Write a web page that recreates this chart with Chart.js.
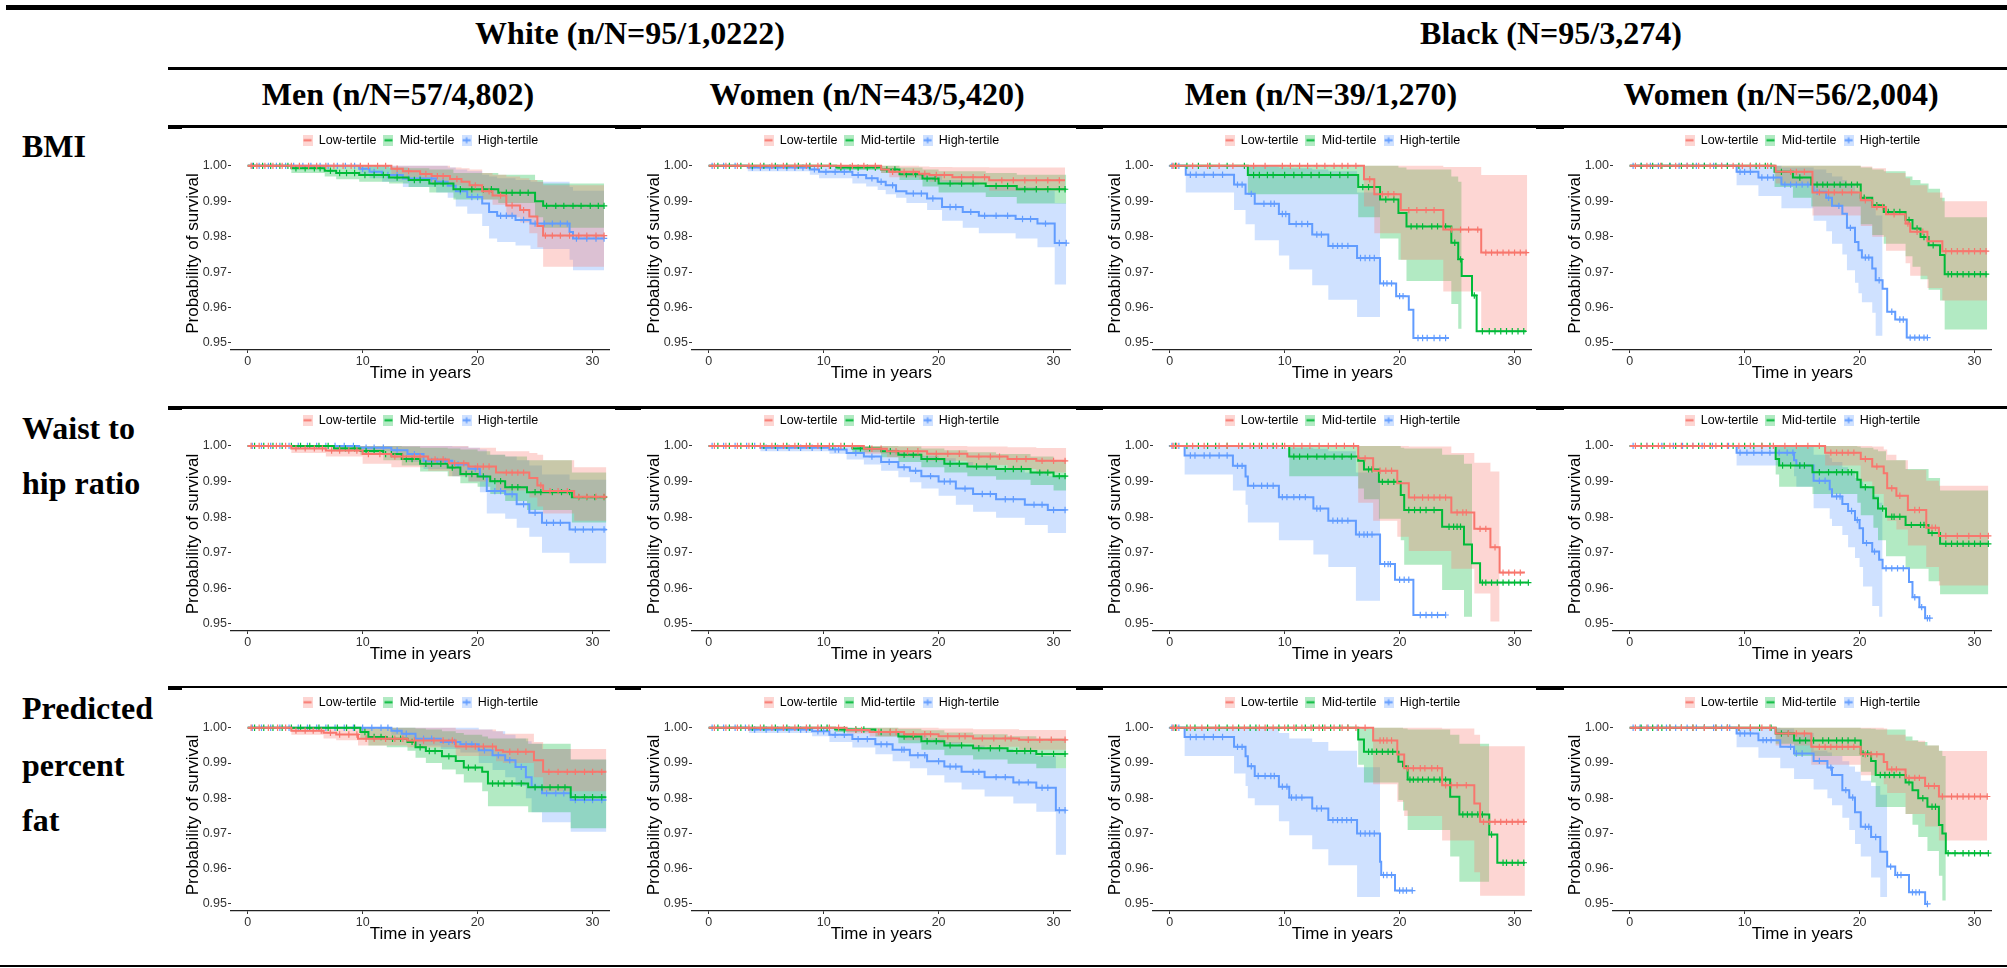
<!DOCTYPE html>
<html>
<head>
<meta charset="utf-8">
<script src="https://cdn.jsdelivr.net/npm/chart.js@4.4.1/dist/chart.umd.min.js"></script>
<style>
  body { margin: 0; background: #fff; width: 2007px; height: 968px; position: relative; overflow: hidden;
         font-family: "Liberation Serif", "Times New Roman", serif; }
  .rule { position: absolute; background: #000; }
  .hdr { position: absolute; font-weight: bold; font-size: 32px; white-space: nowrap; transform: translate(-50%, -50%); }
  .lbl { position: absolute; left: 22px; font-weight: bold; font-size: 32px; white-space: nowrap; transform: translateY(-50%); }
  canvas { position: absolute; }
</style>
</head>
<body>
<div id="page"></div>
<script>
// --- data: each row = [time in years, survival, lower CI, upper CI] ---
// lower/upper = null once the band falls below the 0.95 axis floor (ribbon is dropped there)
// *Cens arrays = times of the censoring ticks (+) on each curve

// BMI
const bmiWhiteMenLow = [[0,1,1,1],[12.5,0.9992,0.9975,1],[13.5,0.9985,0.9968,1],[15.0,0.9977,0.9958,1],[16.0,0.9971,0.9952,1],[17.6,0.9963,0.9945,0.9995],[18.6,0.9955,0.9935,0.9993],[19.3,0.9945,0.9925,0.999],[20.4,0.9928,0.9905,0.998],[21.3,0.9916,0.989,0.9975],[22.5,0.9888,0.9855,0.997],[23.7,0.9875,0.984,0.9965],[24.5,0.9857,0.981,0.996],[25.2,0.983,0.977,0.9955],[25.7,0.9803,0.9715,0.9945],[31.0,0.9803,0.9715,0.9945]];
const bmiWhiteMenMid = [[0,1,1,1],[3.8,0.9993,0.998,1],[6.7,0.9986,0.997,1],[7.7,0.998,0.9962,1],[9.7,0.9974,0.9955,1],[12.3,0.9967,0.995,0.9995],[14.0,0.996,0.994,0.9993],[15.8,0.995,0.9925,0.999],[17.9,0.9934,0.9905,0.998],[21.8,0.9924,0.9895,0.9975],[25.0,0.99,0.9855,0.996],[25.7,0.9887,0.9825,0.995],[31.0,0.9887,0.9825,0.995]];
const bmiWhiteMenHigh = [[0,1,1,1],[9.7,0.9992,0.9975,1],[10.6,0.9983,0.9965,1],[11.7,0.9974,0.9955,1],[13.5,0.9964,0.994,1],[16.4,0.9955,0.9925,1],[17.4,0.9944,0.991,0.9995],[18.1,0.9928,0.9885,0.999],[19.1,0.9912,0.9865,0.9985],[20.4,0.9894,0.983,0.9975],[21.0,0.987,0.9795,0.997],[21.7,0.9859,0.9785,0.9965],[23.3,0.9847,0.9775,0.996],[24.6,0.9837,0.9765,0.9955],[28.0,0.9813,0.9735,0.994],[28.3,0.9795,0.9705,0.993],[31.0,0.9795,0.9705,0.993]];
const bmiWhiteMenLowCens = [0.3,0.8,1.5,2.2,3,3.8,4.5,5.3,6,6.8,7.5,8.3,9,9.8,10.5,11.3,12,13,14,15.5,16.5,17,18.2,19.8,21,22,23,24,25.9,26.5,27.2,28,28.8,29.5,30.3,31];
const bmiWhiteMenMidCens = [0.5,1.3,2,2.8,3.5,4.2,5,5.8,6.3,7.2,8,8.6,9.3,10.2,11,11.8,13,14.5,15,16.3,17,18.5,19.5,20.5,21.2,22.5,23,23.7,24.4,26,26.8,27.5,28.3,29,29.8,30.5,31];
const bmiWhiteMenHighCens = [0.4,1,1.8,2.5,3.3,4,4.8,5.5,6.3,7,7.8,8.5,9.3,10,11,12.2,13,14,15,16,17,18.5,19.5,20,22,22.5,23,24,25,25.8,26.5,27.2,27.8,28.6,29.5,30.3,31];

const bmiWhiteWomenLow = [[0,1,1,1],[15.0,0.999,0.998,1],[15.7,0.9983,0.9968,1],[18.3,0.9978,0.9962,0.9998],[19.2,0.9974,0.9955,0.9997],[21.2,0.9968,0.9948,0.9996],[24.4,0.9959,0.993,0.9995],[31.0,0.9959,0.993,0.9995]];
const bmiWhiteWomenMid = [[0,1,1,1],[11.1,0.9995,0.9988,1],[15.0,0.999,0.998,1],[16.6,0.9976,0.996,0.9995],[18.6,0.9964,0.9942,0.999],[20.0,0.995,0.9925,0.9985],[24.1,0.9943,0.9912,0.998],[26.8,0.9934,0.9894,0.9975],[31.1,0.9934,0.9894,0.9975]];
const bmiWhiteWomenHigh = [[0,1,1,1],[3.4,0.9995,0.9985,1],[8.8,0.999,0.9975,1],[9.6,0.9983,0.9965,1],[12.5,0.9974,0.995,0.9995],[13.7,0.9965,0.9942,0.9992],[14.7,0.9955,0.9932,0.999],[15.4,0.9945,0.992,0.9988],[16.3,0.9928,0.991,0.9985],[17.2,0.9922,0.9895,0.998],[19.0,0.9908,0.9875,0.9972],[20.3,0.9884,0.9845,0.996],[22.1,0.987,0.9825,0.9952],[23.5,0.9859,0.981,0.9945],[26.7,0.985,0.9795,0.994],[28.6,0.9837,0.977,0.993],[30.1,0.9782,0.9665,0.9895],[31.1,0.9782,0.9665,0.9895]];
const bmiWhiteWomenLowCens = [0.5,1.5,2.5,3.5,4.5,5.5,6.5,7.5,8.5,9.5,10.5,11.5,12.5,13.5,14.5,16,17,17.8,18.8,19.8,20.5,22,23,24,25.5,26.5,27.5,28.5,29.5,30.5];
const bmiWhiteWomenMidCens = [0.8,1.8,2.8,3.8,4.8,5.8,6.8,7.8,8.8,9.8,10.6,11.5,12.3,13,13.8,14.5,15.5,16.2,17.2,18,19,19.7,21,22,23,25,26,27.5,28.5,29.5,30.5,31];
const bmiWhiteWomenHighCens = [0.3,1.3,2.3,3.8,4.5,5.3,6,6.8,7.5,8.2,9.2,10.2,11,11.8,13,14.2,15,16,17.8,18.5,19.5,21,21.5,22.8,24,25,26,27.3,28,29.3,30.5,31.1];

const bmiBlackMenLow = [[0,1,1,1],[16.9,0.9962,0.9885,1],[17.8,0.992,0.981,1],[20.1,0.9875,0.9735,1],[23.8,0.982,0.9645,0.9997],[27.1,0.9755,0.9533,0.9974],[31.1,0.9755,0.9533,0.9974]];
const bmiBlackMenMid = [[0,1,1,1],[6.8,0.9974,0.992,1],[16.4,0.994,0.9855,1],[18.3,0.9905,0.9795,1],[19.9,0.9867,0.9735,0.9995],[20.6,0.9829,0.9675,0.999],[24.5,0.9783,0.961,0.997],[25.1,0.9736,0.954,0.9955],[25.4,0.9689,null,null],[26.3,0.9634,null,null],[26.7,0.9533,null,null],[31.0,0.9533,null,null]];
const bmiBlackMenHigh = [[0,1,1,1],[1.4,0.9975,0.9925,1],[5.6,0.9947,0.9875,1],[6.6,0.9921,0.9835,1],[7.4,0.9893,0.979,1],[9.5,0.9864,0.9747,0.9995],[10.4,0.9836,0.9707,0.9993],[12.4,0.9806,0.9663,0.999],[13.8,0.9774,0.9622,0.9985],[16.3,0.974,0.9573,0.9925],[18.3,0.9668,null,null],[19.7,0.9632,null,null],[20.8,0.9594,null,null],[21.2,0.9514,null,null],[24.3,0.9514,null,null]];
const bmiBlackMenLowCens = [0.3,0.6,2,3.3,4.3,5.5,7.3,8.3,9.8,10.5,11.3,12,12.8,13.5,14.3,15,15.5,16.2,17.4,18.5,19,19.5,20.8,21.5,22.3,23,24.5,25.3,26,26.8,27.5,28,28.5,29,29.5,30,30.5,31];
const bmiBlackMenMidCens = [0.5,1.5,2.5,3.5,5,6.5,7.3,7.8,8.5,9,10,10.8,11.5,12.3,13,14,14.8,15.5,16.8,17.3,17.8,18.8,19.5,21,21.5,22,22.8,23.3,24,24.8,25.3,26.5,27.2,27.8,28.3,28.8,29.3,29.8,30.3,30.8];
const bmiBlackMenHighCens = [0.2,0.5,0.8,1.8,2.3,3,3.8,4.6,5.9,6.3,7.1,8.2,8.8,9.1,9.8,10.1,11,11.5,12,12.8,13.2,14.2,14.6,15,15.5,16.6,17,17.4,17.8,18.6,18.9,19.3,20,20.3,21.6,22,22.4,23,23.5,24];

const bmiBlackWomenLow = [[0,1,1,1],[12.7,0.9983,0.995,1],[15.9,0.9925,0.986,1],[20.1,0.9903,0.983,0.9998],[21.1,0.9884,0.98,0.9993],[22.3,0.9863,0.976,0.998],[24.0,0.9837,0.9725,0.9965],[24.4,0.9814,0.969,0.9945],[25.9,0.9787,0.9655,0.9925],[27.2,0.9759,0.962,0.99],[31.1,0.9759,0.962,0.99]];
const bmiBlackWomenMid = [[0,1,1,1],[12.6,0.9983,0.994,1],[14.2,0.9967,0.991,1],[15.8,0.9947,0.9885,1],[20.1,0.991,0.9835,0.9995],[21.1,0.9889,0.9805,0.999],[22.1,0.987,0.978,0.9985],[24.0,0.9847,0.9745,0.997],[24.6,0.9823,0.9715,0.996],[25.3,0.9799,0.968,0.995],[26.0,0.9776,0.965,0.9935],[27.0,0.9748,0.962,0.991],[27.4,0.9694,0.9538,0.9855],[31.1,0.9694,0.9538,0.9855]];
const bmiBlackWomenHigh = [[0,1,1,1],[9.3,0.9983,0.9945,1],[11.2,0.9967,0.9915,1],[13.2,0.9947,0.988,0.9995],[16.0,0.9927,0.9845,0.999],[17.1,0.991,0.9815,0.998],[17.6,0.9887,0.978,0.997],[18.5,0.9865,0.975,0.996],[18.9,0.9825,0.9705,0.9945],[19.6,0.9785,0.967,0.993],[19.9,0.9762,0.964,0.992],[20.2,0.9741,0.9615,0.991],[21.1,0.971,0.9585,0.988],[21.4,0.9677,0.952,0.986],[22.0,0.9653,null,null],[22.4,0.9588,null,null],[23.1,0.9566,null,null],[24.1,0.9515,null,null],[25.9,0.9515,null,null]];
const bmiBlackWomenLowCens = [0.5,1.5,2.7,4,5,6,7,8,9,9.8,10.5,11.3,12,14,14.5,15.2,16.5,17.3,17.8,18.5,19.3,20.5,21.5,22,23,24.2,25,25.5,27.5,28,28.5,29,29.5,30,30.5,31];
const bmiBlackWomenMidCens = [1,2,2.8,3.5,4.5,5.5,6.5,7.5,8.5,9.5,10.5,11,11.8,12.3,13.2,14.8,16.3,16.8,17.2,17.8,18.3,18.8,19.3,19.8,20.4,21.5,22.5,23,23.5,24.3,25,25.6,26.4,27.7,28,28.5,29,29.5,30,30.5,31];
const bmiBlackWomenHighCens = [0.3,1,1.8,2.5,3.5,4.3,5,5.8,6.5,7.3,8,8.5,9.6,10,10.5,11.5,12,12.5,13.5,14,14.5,15,15.5,16.3,17.3,18.2,19.2,20.5,20.8,21.7,22.8,23.5,23.8,24.4,24.8,25.2,25.6,25.9];

// Waist to hip ratio
const whrWhiteMenLow = [[0,1,1,1],[3.8,0.9993,0.998,1],[6.8,0.9987,0.997,1],[10.0,0.9977,0.995,1],[12.5,0.997,0.994,1],[15.7,0.9962,0.993,1],[17.5,0.9951,0.9915,1],[19.2,0.9942,0.99,0.9995],[21.6,0.9925,0.9875,0.9985],[24.5,0.991,0.9855,0.998],[25.2,0.9889,0.983,0.9975],[25.7,0.9873,0.981,0.996],[28.4,0.9857,0.979,0.994],[31.2,0.9857,0.979,0.994]];
const whrWhiteMenMid = [[0,1,1,1],[7.5,0.9993,0.9985,1],[9.8,0.9986,0.9975,1],[11.8,0.9977,0.996,1],[13.4,0.9963,0.9945,0.9998],[15.0,0.995,0.9928,0.9995],[17.4,0.9939,0.9915,0.9993],[18.5,0.9921,0.9895,0.999],[20.0,0.9914,0.9885,0.9985],[21.1,0.9901,0.9865,0.9975],[22.4,0.9884,0.9845,0.997],[24.3,0.987,0.982,0.996],[28.2,0.9856,0.9785,0.9925],[31.2,0.9856,0.9785,0.9925]];
const whrWhiteMenHigh = [[0,1,1,1],[9.7,0.9995,0.9985,1],[12.5,0.9988,0.997,1],[13.9,0.9977,0.9955,1],[15.3,0.9958,0.9935,1],[17.8,0.9948,0.9915,0.9998],[19.2,0.9936,0.99,0.9995],[20.2,0.9915,0.987,0.999],[20.8,0.9873,0.981,0.9975],[22.4,0.9864,0.9795,0.997],[23.4,0.9836,0.977,0.996],[24.5,0.9812,0.9745,0.9945],[25.6,0.9784,0.97,0.992],[28.0,0.9765,0.967,0.9905],[31.2,0.9765,0.967,0.9905]];
const whrWhiteMenLowCens = [0.3,1,1.8,2.5,3.3,4.2,5,5.8,6.5,7.3,8,8.8,9.5,10.5,11.5,12.8,13.5,14.5,15,16.3,17,18,18.8,20,20.5,21,22.5,23,23.5,24,25.5,26.3,27,27.8,28.8,29.5,30.3,31];
const whrWhiteMenMidCens = [0.6,1.4,2.2,3,3.8,4.6,5.4,6.2,7,8,8.5,9.3,10.3,11,12,12.5,13.8,14.3,15.5,16,16.8,17.8,19,19.5,20.5,21.5,22,23,23.5,25,25.5,26.5,27.3,28,28.8,29.5,30.2,31];
const whrWhiteMenHighCens = [0.4,1.2,2,2.8,3.6,4.4,5.2,6,6.8,7.6,8.4,9.2,10.3,11,11.8,13,14.5,16,16.5,17.2,18.3,19.8,21.5,22,23,24,25,26,26.6,27.2,28.5,29.2,30,31];

const whrWhiteWomenLow = [[0,1,1,1],[13.5,0.9992,0.9978,1],[15.5,0.9985,0.9968,1],[19.0,0.9978,0.9958,1],[22.5,0.997,0.9946,0.9998],[26.0,0.9963,0.9935,0.9996],[28.5,0.9958,0.9925,0.9994],[31.1,0.9958,0.9925,0.9994]];
const whrWhiteWomenMid = [[0,1,1,1],[12.5,0.9993,0.9982,1],[15.0,0.9985,0.9968,1],[16.5,0.9975,0.9955,0.9998],[18.5,0.9963,0.994,0.9993],[20.5,0.995,0.9925,0.9988],[22.5,0.9942,0.9915,0.9982],[25.0,0.9935,0.9905,0.9977],[28.0,0.9925,0.989,0.997],[30.0,0.9915,0.9875,0.996],[31.1,0.9915,0.9875,0.996]];
const whrWhiteWomenHigh = [[0,1,1,1],[4.5,0.9995,0.9985,1],[10.5,0.999,0.9978,1],[12.0,0.998,0.9962,1],[13.5,0.997,0.9948,0.9995],[15.0,0.9955,0.993,0.999],[16.5,0.994,0.9912,0.9985],[17.5,0.993,0.9898,0.998],[18.5,0.9915,0.988,0.9972],[20.0,0.99,0.986,0.9965],[21.5,0.988,0.9835,0.9955],[23.0,0.9865,0.9815,0.9945],[25.0,0.985,0.9798,0.9935],[27.5,0.9835,0.9778,0.9925],[29.5,0.982,0.9755,0.9915],[31.1,0.982,0.9755,0.9915]];
const whrWhiteWomenLowCens = [0.5,1.5,2.5,3.5,4.5,5.5,6.5,7.5,8.5,9.5,10.5,11.5,12.5,14.2,15,16.3,17.3,18.2,19.8,20.8,21.8,23.5,24.5,25.3,26.8,27.6,29,30,31];
const whrWhiteWomenMidCens = [0.8,1.8,2.8,3.8,4.8,5.8,6.8,7.8,8.8,9.8,10.8,11.8,13.2,14,15.8,17,17.8,19,19.8,21,21.8,23.3,24.2,25.8,26.5,27.2,28.8,29.5,30.5,31];
const whrWhiteWomenHighCens = [0.3,1.3,2.3,3.3,4,5,6,7,8,9,9.8,11,11.3,12.8,14.2,15.7,17,18,19.3,20.5,21,22.3,23.8,24.5,25.8,26.5,28.3,29,30,31];

const whrBlackMenLow = [[0,1,1,1],[16.4,0.9965,0.984,1],[17.7,0.993,0.979,1],[19.8,0.9895,0.9745,1],[20.8,0.9855,0.9705,0.9998],[24.5,0.9813,0.9655,0.998],[26.5,0.9767,0.9585,0.9953],[27.9,0.9715,0.9507,0.9928],[28.7,0.9644,null,null],[30.9,0.9644,null,null]];
const whrBlackMenMid = [[0,1,1,1],[10.4,0.997,0.9915,1],[16.4,0.9958,0.988,1],[16.9,0.9934,0.985,1],[18.2,0.9899,0.9795,1],[20.1,0.9862,0.9735,0.9995],[20.4,0.982,0.9666,0.9993],[23.7,0.9773,0.9595,0.9975],[25.6,0.9723,0.952,0.995],[26.3,0.967,null,null],[27.0,0.9616,null,null],[31.2,0.9616,null,null]];
const whrBlackMenHigh = [[0,1,1,1],[1.3,0.9973,0.992,1],[5.5,0.9944,0.9875,1],[6.6,0.9914,0.9835,1],[6.8,0.9888,0.9785,1],[9.5,0.9856,0.9735,0.9995],[12.5,0.9824,0.9695,0.9992],[13.8,0.979,0.966,0.9985],[16.2,0.9751,0.9565,0.9925],[18.3,0.9668,null,null],[19.6,0.9624,null,null],[21.2,0.9525,null,null],[24.0,0.9525,null,null]];
const whrBlackMenLowCens = [0.3,0.6,2,3,4.3,5,6,7,7.8,8.5,9.3,10,10.8,11.5,12.2,13,13.8,14.5,15.2,16,17,18.3,18.8,19.3,21.3,22,22.5,23,23.5,24,25,25.5,25.8,27,27.5,28.3,29,29.5,30,30.5];
const whrBlackMenMidCens = [0.5,1.5,2.5,3.3,4,5,6.3,7.3,8,9,9.8,10.8,11.3,12,12.8,13.5,14.3,15,15.8,17.3,17.6,18.5,19,19.5,20.8,21.3,21.8,22.3,23,24.3,24.7,25,25.3,27.2,27.5,28,28.5,29,29.5,30,30.5,31.2];
const whrBlackMenHighCens = [0.2,0.5,0.8,1.8,2.2,3,3.5,4.3,5,5.9,6.3,7.3,8,8.5,9,9.8,10.2,10.8,11.3,11.8,12.8,13.1,14.2,14.6,15,15.5,16.5,16.9,17.2,17.6,18.7,19,19.2,20,20.4,20.8,21.8,22.3,22.8,23.3,24];

const whrBlackWomenLow = [[0,1,1,1],[17.0,0.9981,0.9945,1],[20.1,0.9963,0.99,1],[21.1,0.9942,0.9865,0.9998],[22.1,0.9923,0.983,0.999],[22.4,0.9881,0.979,0.9975],[23.2,0.986,0.9765,0.996],[24.2,0.982,0.972,0.9933],[25.8,0.977,0.966,0.9902],[26.9,0.9747,0.9608,0.9888],[31.2,0.9747,0.9608,0.9888]];
const whrBlackWomenMid = [[0,1,1,1],[12.7,0.9963,0.992,1],[13.0,0.9945,0.9885,1],[15.9,0.9926,0.9865,1],[19.8,0.9905,0.984,0.9998],[20.1,0.9884,0.9805,0.9995],[21.2,0.9853,0.977,0.999],[21.6,0.9824,0.9735,0.9985],[22.3,0.9801,0.969,0.996],[24.0,0.9778,0.9655,0.9935],[26.0,0.9755,0.962,0.991],[27.0,0.9725,0.9583,0.9875],[31.2,0.9725,0.9583,0.9875]];
const whrBlackWomenHigh = [[0,1,1,1],[9.3,0.9981,0.9945,1],[14.3,0.996,0.9915,1],[14.5,0.9945,0.9885,0.9998],[16.0,0.9902,0.9825,0.9975],[17.4,0.9878,0.9795,0.9965],[17.6,0.9858,0.9775,0.9955],[18.5,0.9837,0.975,0.994],[19.0,0.9817,0.9715,0.993],[19.6,0.9792,0.9685,0.991],[20.0,0.9769,0.966,0.99],[20.3,0.9727,0.9605,0.9885],[21.1,0.9703,0.955,0.986],[21.7,0.968,0.952,0.984],[22.0,0.9656,null,null],[24.3,0.9618,null,null],[24.6,0.9575,null,null],[25.2,0.9547,null,null],[25.7,0.9516,null,null],[26.1,0.9516,null,null]];
const whrBlackWomenLowCens = [0.5,1.5,2.5,3.5,4.5,5.5,6.5,7.5,8.5,9.5,10.5,11.5,12.5,13.5,14.5,15.5,16.5,17.5,18,18.5,19,19.5,20.5,21.5,22.8,23.5,24.8,25.2,26.3,26.6,27.5,28.5,29.5,30.5,31.2];
const whrBlackWomenMidCens = [1,2,3,4,5,6,7,8,9,10,10.8,11.5,12.2,13.3,14,14.8,15.2,16.5,17.3,18,18.5,19,19.3,20.5,22,22.8,23,23.5,24.5,25.3,25.6,26.3,27.5,28,28.5,29,29.5,30,30.5,31.2];
const whrBlackWomenHighCens = [0.3,1.5,2.8,3.8,4.6,5.5,6.3,7.2,8,8.6,9.6,10.2,10.8,11.5,12.2,13,13.7,14.2,14.8,16.5,17,18,18.3,19.3,19.8,20.6,21.3,22.3,22.8,23.3,23.8,24.8,25.4,25.9,26.1];

// Predicted percent fat
const fatWhiteMenLow = [[0,1,1,1],[3.8,0.9992,0.998,1],[6.6,0.9986,0.997,1],[7.7,0.9981,0.9965,1],[9.6,0.9969,0.995,1],[13.9,0.9964,0.9945,1],[18.1,0.9947,0.992,0.9995],[21.6,0.9936,0.9905,0.999],[22.2,0.9932,0.99,0.9983],[24.9,0.9908,0.986,0.996],[25.7,0.9875,0.982,0.994],[31.2,0.9875,0.982,0.994]];
const fatWhiteMenMid = [[0,1,1,1],[9.8,0.9988,0.997,1],[10.5,0.9974,0.995,1],[12.1,0.9969,0.9945,1],[13.9,0.996,0.9935,1],[14.6,0.9945,0.9915,0.9998],[15.5,0.9934,0.99,0.9995],[16.9,0.9919,0.9882,0.999],[18.1,0.9906,0.9868,0.9985],[18.8,0.9887,0.9845,0.998],[20.4,0.9875,0.982,0.9975],[20.9,0.9842,0.9777,0.997],[24.4,0.9831,0.976,0.9955],[28.1,0.9803,0.9715,0.991],[31.2,0.9803,0.9715,0.991]];
const fatWhiteMenHigh = [[0,1,1,1],[12.5,0.9992,0.998,1],[13.4,0.9983,0.9968,1],[14.6,0.9969,0.995,1],[16.8,0.996,0.994,1],[18.5,0.9953,0.993,1],[20.1,0.9936,0.99,0.9995],[21.3,0.9922,0.988,0.999],[22.4,0.9908,0.986,0.998],[23.3,0.9889,0.9835,0.997],[24.2,0.986,0.98,0.9962],[24.7,0.9833,0.976,0.9955],[25.6,0.9814,0.9732,0.994],[28.1,0.9795,0.9705,0.991],[31.2,0.9795,0.9705,0.991]];
const fatWhiteMenLowCens = [0.3,1,1.8,2.6,3.3,4.2,5,5.7,6.4,7.2,8,8.8,9.5,10.3,11,12,12.8,13.5,14.5,15.3,16.2,17,17.8,19,19.8,20.5,21.3,22.8,23.5,24.2,26.2,27,27.8,28.5,29.3,30,30.8];
const fatWhiteMenMidCens = [0.6,1.4,2.2,3,3.8,4.6,5.4,6.2,7,7.8,8.6,9.3,10.2,11,11.6,12.6,13.3,14.3,15,15.8,16.3,17.5,19.2,19.8,21.3,21.8,22.3,23,23.8,25,25.6,26.3,27,27.6,28.5,29.3,30,30.8];
const fatWhiteMenHighCens = [0.4,1.2,2,2.8,3.6,4.4,5.2,6,6.8,7.6,8.4,9.2,10,10.8,11.6,12.2,13,13.8,15.3,16,17.5,18,19,19.5,20.6,21.8,22.8,23.8,25,26,26.8,27.5,28.5,29.3,30,30.8];

const fatWhiteWomenLow = [[0,1,1,1],[12.0,0.9994,0.9984,1],[14.0,0.9988,0.9975,1],[17.0,0.9982,0.9965,1],[20.0,0.9976,0.9956,0.9998],[23.0,0.997,0.9946,0.9996],[27.0,0.9966,0.9938,0.9994],[31.1,0.9966,0.9938,0.9994]];
const fatWhiteWomenMid = [[0,1,1,1],[11.0,0.9995,0.9988,1],[14.5,0.9988,0.9975,1],[16.5,0.9975,0.9956,0.9997],[18.5,0.9962,0.9938,0.9993],[20.5,0.995,0.9922,0.9987],[23.0,0.9942,0.991,0.9982],[26.0,0.9934,0.9898,0.9976],[28.5,0.9926,0.9885,0.997],[31.1,0.9926,0.9885,0.997]];
const fatWhiteWomenHigh = [[0,1,1,1],[3.5,0.9995,0.9985,1],[9.0,0.999,0.9976,1],[10.5,0.998,0.996,1],[12.5,0.9968,0.9944,0.9995],[14.5,0.9953,0.9925,0.999],[16.0,0.9938,0.9905,0.9985],[17.5,0.9922,0.9885,0.9978],[19.0,0.9905,0.9865,0.997],[20.5,0.989,0.9845,0.996],[22.0,0.9875,0.9825,0.995],[24.0,0.986,0.9805,0.994],[26.5,0.9845,0.9785,0.993],[28.5,0.983,0.9762,0.992],[30.2,0.9766,0.964,0.9885],[31.1,0.9766,0.964,0.9885]];
const fatWhiteWomenLowCens = [0.5,1.5,2.5,3.5,4.5,5.5,6.5,7.5,8.5,9.5,10.5,11.3,12.8,13.3,14.8,15.8,16.3,17.8,18.8,19.3,20.8,21.8,22.3,23.8,24.8,25.8,26.3,27.8,28.8,29.8,31];
const fatWhiteWomenMidCens = [0.8,1.8,2.8,3.8,4.8,5.8,6.8,7.8,8.8,9.8,10.3,11.8,12.8,13.5,15,15.8,17,17.8,19,19.8,21,22,23.5,24.5,25.3,26.8,27.5,28,29,30,31];
const fatWhiteWomenHighCens = [0.3,1.3,2.3,3.2,4,5,6,7,8,8.5,9.5,10,11,11.8,13,13.8,15,15.5,16.8,17,18.2,18.8,20,21,21.5,23,23.5,25,25.8,27,27.8,29,29.5,30.5,31];

const fatBlackMenLow = [[0,1,1,1],[17.7,0.9964,0.984,1],[19.8,0.9924,0.979,1],[20.4,0.9885,0.975,1],[23.7,0.9837,0.968,0.9998],[26.5,0.9785,0.959,0.998],[27.0,0.9733,0.9523,0.9948],[30.9,0.9733,0.9523,0.9948]];
const fatBlackMenMid = [[0,1,1,1],[16.4,0.9967,0.9895,1],[16.9,0.9932,0.9845,1],[19.9,0.9904,0.9795,1],[20.3,0.9891,0.9765,0.9998],[20.7,0.9853,0.971,0.9995],[24.4,0.9804,0.9635,0.998],[25.2,0.9754,0.9563,0.9955],[27.8,0.9697,null,null],[28.5,0.9617,null,null],[30.9,0.9617,null,null]];
const fatBlackMenHigh = [[0,1,1,1],[1.3,0.9974,0.992,1],[5.6,0.9946,0.987,1],[6.6,0.9919,0.9835,1],[6.8,0.9891,0.98,1],[7.4,0.9863,0.978,0.9998],[9.5,0.9833,0.9735,0.9985],[10.4,0.9802,0.9695,0.997],[12.4,0.9771,0.9655,0.996],[13.8,0.9738,0.961,0.9935],[16.3,0.97,0.952,0.9888],[18.3,0.962,null,null],[18.4,0.9582,null,null],[19.6,0.9538,null,null],[21.1,0.9538,null,null]];
const fatBlackMenLowCens = [0.3,0.6,1.8,2.8,4,5.5,6.5,7.8,8.3,9,10,10.8,11.5,12.3,13,13.5,14.3,15,15.5,16.2,17,18.3,18.6,18.9,19.3,20.7,21.2,21.8,22.2,22.8,23.3,24,24.5,25,25.8,27.3,27.8,28.3,28.8,29.3,29.8,30.3,30.8];
const fatBlackMenMidCens = [0.5,1.5,2.2,3.3,4.3,5,6,7,7.5,8.5,9.5,10.3,11,11.8,12.5,13.3,14,14.8,15.5,17.3,17.6,18,18.5,19,19.4,20.9,21.2,21.6,22,22.5,23,23.5,24,25.5,25.9,26.3,26.8,27.2,28,29,29.3,29.8,30.3,30.8];
const fatBlackMenHighCens = [0.2,0.5,0.8,1.8,2.3,3,3.8,4.6,5.9,6.3,7.1,7.7,8.3,8.8,9.1,9.8,10.2,10.6,11,11.5,12.8,13.2,14.2,14.6,15,15.4,15.8,16.6,17,17.4,17.8,18.6,18.9,19.3,20,20.3,20.6,21.1];

const fatBlackWomenLow = [[0,1,1,1],[12.7,0.9984,0.995,1],[15.8,0.9946,0.9895,1],[20.1,0.9925,0.9865,1],[22.1,0.9903,0.984,0.9998],[22.4,0.9882,0.9815,0.998],[24.0,0.9858,0.9755,0.9963],[25.7,0.9835,0.972,0.995],[26.9,0.9805,0.968,0.9934],[31.1,0.9805,0.968,0.9934]];
const fatBlackWomenMid = [[0,1,1,1],[12.7,0.9984,0.9955,1],[14.3,0.9964,0.992,1],[20.1,0.9927,0.9875,0.9998],[21.0,0.9906,0.9845,0.9997],[21.4,0.9866,0.9775,0.9995],[24.0,0.9845,0.9755,0.9975],[24.6,0.9823,0.9725,0.9965],[25.1,0.98,0.969,0.996],[25.9,0.9776,0.965,0.995],[26.9,0.9724,0.958,0.9935],[27.2,0.97,0.951,0.992],[27.5,0.9644,null,null],[31.2,0.9644,null,null]];
const fatBlackWomenHigh = [[0,1,1,1],[9.3,0.9984,0.9945,1],[11.2,0.9965,0.9915,1],[13.1,0.9946,0.9885,0.9998],[14.3,0.9927,0.9855,0.9985],[16.0,0.9906,0.9825,0.9935],[17.2,0.9887,0.98,0.993],[17.6,0.9866,0.978,0.992],[18.5,0.9823,0.9745,0.9905],[19.1,0.9802,0.971,0.989],[19.6,0.976,0.967,0.9875],[20.1,0.9719,0.9635,0.985],[21.0,0.969,0.9575,0.9835],[21.8,0.9648,0.952,0.981],[22.4,0.9606,null,null],[23.1,0.9582,null,null],[24.3,0.9533,null,null],[25.7,0.95,null,null],[25.9,0.95,null,null]];
const fatBlackWomenLowCens = [0.5,1.5,2.5,3.5,4.5,5.5,6.5,7.5,8.5,9.5,10.5,11.5,12.2,13.8,14.5,15.2,16.5,17,17.5,18,18.5,19,19.5,20.5,21,21.5,22.8,23.2,24.3,24.8,25.2,26,26.5,27.2,28,28.5,29,29.5,30,30.5,31.1];
const fatBlackWomenMidCens = [1,2,2.8,3.5,4.5,5.5,6.5,7.5,8.5,9.5,10.5,11.3,12.3,13.2,13.8,14.8,15.3,16,16.8,17.3,18,18.5,19,19.6,20.3,20.7,21.8,22.2,22.6,23,23.5,24.3,25.5,26.3,26.6,27.7,28.3,29,29.5,30,30.5,31.2];
const fatBlackWomenHighCens = [0.3,0.9,1.6,2.4,3.2,4,5,5.8,6.5,7.3,8,8.7,9.6,10,10.5,11.6,11.9,12.3,14,14.5,15,16.5,17.5,18.8,19.4,20.5,20.8,21.4,22.7,23.3,23.6,24.6,24.9,25.2,25.9];

// labels
const raceHeaders = ['White (n/N=95/1,0222)', 'Black (N=95/3,274)'];
const groupHeaders = ['Men (n/N=57/4,802)', 'Women (n/N=43/5,420)', 'Men (n/N=39/1,270)', 'Women (n/N=56/2,004)'];
const rowLabels = [['BMI'], ['Waist to', 'hip ratio'], ['Predicted', 'percent', 'fat']];
const groupNames = ['Low-tertile', 'Mid-tertile', 'High-tertile'];
const xTicks = [0, 10, 20, 30];
const yTicks = [0.95, 0.96, 0.97, 0.98, 0.99, 1.00];

const panels = [
  [[bmiWhiteMenLow, bmiWhiteMenMid, bmiWhiteMenHigh], [bmiWhiteWomenLow, bmiWhiteWomenMid, bmiWhiteWomenHigh],
   [bmiBlackMenLow, bmiBlackMenMid, bmiBlackMenHigh], [bmiBlackWomenLow, bmiBlackWomenMid, bmiBlackWomenHigh]],
  [[whrWhiteMenLow, whrWhiteMenMid, whrWhiteMenHigh], [whrWhiteWomenLow, whrWhiteWomenMid, whrWhiteWomenHigh],
   [whrBlackMenLow, whrBlackMenMid, whrBlackMenHigh], [whrBlackWomenLow, whrBlackWomenMid, whrBlackWomenHigh]],
  [[fatWhiteMenLow, fatWhiteMenMid, fatWhiteMenHigh], [fatWhiteWomenLow, fatWhiteWomenMid, fatWhiteWomenHigh],
   [fatBlackMenLow, fatBlackMenMid, fatBlackMenHigh], [fatBlackWomenLow, fatBlackWomenMid, fatBlackWomenHigh]]
];
const censors = [
  [[bmiWhiteMenLowCens, bmiWhiteMenMidCens, bmiWhiteMenHighCens], [bmiWhiteWomenLowCens, bmiWhiteWomenMidCens, bmiWhiteWomenHighCens],
   [bmiBlackMenLowCens, bmiBlackMenMidCens, bmiBlackMenHighCens], [bmiBlackWomenLowCens, bmiBlackWomenMidCens, bmiBlackWomenHighCens]],
  [[whrWhiteMenLowCens, whrWhiteMenMidCens, whrWhiteMenHighCens], [whrWhiteWomenLowCens, whrWhiteWomenMidCens, whrWhiteWomenHighCens],
   [whrBlackMenLowCens, whrBlackMenMidCens, whrBlackMenHighCens], [whrBlackWomenLowCens, whrBlackWomenMidCens, whrBlackWomenHighCens]],
  [[fatWhiteMenLowCens, fatWhiteMenMidCens, fatWhiteMenHighCens], [fatWhiteWomenLowCens, fatWhiteWomenMidCens, fatWhiteWomenHighCens],
   [fatBlackMenLowCens, fatBlackMenMidCens, fatBlackMenHighCens], [fatBlackWomenLowCens, fatBlackWomenMidCens, fatBlackWomenHighCens]]
];

// --- page layout ---
const COLORS = ['#F8766D', '#00BA38', '#619CFF'];
const FILLS = ['rgba(248,118,109,0.3)', 'rgba(0,186,56,0.3)', 'rgba(97,156,255,0.3)'];
const colLeft = [231, 692, 1153, 1613];       // plot area left edges
const rowBox = [[157, 350], [437, 631], [719, 911]]; // plot area top/bottom
const PLOT_W = 380, Y_AXIS_W = 48, X_AXIS_H = 34, LEGEND_H = 30;

const page = document.getElementById('page');
function add(cls, css, text) {
  const d = document.createElement('div');
  d.className = cls;
  Object.assign(d.style, css);
  if (text) d.textContent = text;
  page.appendChild(d);
}

// table rules
add('rule', {left: '6px', top: '5px', width: '2001px', height: '5px'});
add('rule', {left: '168px', top: '67px', width: '1839px', height: '2.5px'});
[125, 406, 685.5].forEach(y => {
  add('rule', {left: '168px', top: y + 'px', width: '1839px', height: '2.5px'});
  [[168, 14], [615, 26], [1076, 27], [1536, 28]].forEach(s =>
    add('rule', {left: s[0] + 'px', top: (y + 1.5) + 'px', width: s[1] + 'px', height: '2.5px'}));
});
add('rule', {left: '0px', top: '964.5px', width: '2007px', height: '2.5px'});

// headers
[[630, 33], [1551, 33]].forEach((p, i) => add('hdr', {left: p[0] + 'px', top: p[1] + 'px'}, raceHeaders[i]));
[398, 867, 1321, 1781].forEach((x, i) => add('hdr', {left: x + 'px', top: '94px'}, groupHeaders[i]));
const labelY = [[146], [428, 483], [708, 765, 820]];
rowLabels.forEach((lines, r) => lines.forEach((t, k) => add('lbl', {top: labelY[r][k] + 'px'}, t)));

// --- charts ---
Chart.defaults.font.family = "'Liberation Sans', Arial, sans-serif";
Chart.defaults.color = '#000';

function keyIcon(g) {
  const c = document.createElement('canvas');
  c.width = 10; c.height = 11;
  const k = c.getContext('2d');
  k.fillStyle = FILLS[g];
  k.fillRect(0, 0, 10, 11);
  k.fillStyle = COLORS[g];
  k.fillRect(1, 4.5, 8, 2);
  if (g === 2) k.fillRect(4.3, 2.5, 1.4, 6);
  return c;
}
const keyIcons = [0, 1, 2].map(keyIcon);

function bandPoints(rows, k) {
  const pts = [];
  for (const r of rows) {
    if (r[2] === null) { pts.push({x: r[0], y: pts[pts.length - 1].y}); break; }
    pts.push({x: r[0], y: r[k]});
  }
  return pts;
}

// survival value of the step curve at time t (value of the last step at or before t)
function survAt(rows, t) {
  let s = rows[0][1];
  for (const r of rows) { if (r[0] <= t) s = r[1]; else break; }
  return s;
}

const fixLegend = {
  id: 'fixLegend',
  beforeInit(chart) {
    const fit = chart.legend.fit;
    chart.legend.fit = function () { fit.call(this); this.height = LEGEND_H; };
  }
};

function drawPanel(series, cens, r, c) {
  const [top, bottom] = rowBox[r];
  const cv = document.createElement('canvas');
  const w = Y_AXIS_W + PLOT_W + 4, h = LEGEND_H + (bottom - top) + X_AXIS_H;
  cv.width = w; cv.height = h;
  cv.style.left = (colLeft[c] - Y_AXIS_W) + 'px';
  cv.style.top = (top - LEGEND_H) + 'px';
  document.body.appendChild(cv);

  const datasets = [];
  series.forEach((rows, g) => {
    datasets.push({data: bandPoints(rows, 3), stepped: true, borderWidth: 0, borderColor: 'transparent', pointRadius: 0, fill: false});
    datasets.push({data: bandPoints(rows, 2), stepped: true, borderWidth: 0, borderColor: 'transparent', pointRadius: 0,
                   fill: '-1', backgroundColor: FILLS[g]});
  });
  series.forEach((rows, g) => {
    datasets.push({label: groupNames[g], data: rows.map(p => ({x: p[0], y: p[1]})), stepped: true,
                   borderColor: COLORS[g], borderWidth: 2, pointRadius: 0, fill: false});
    datasets.push({data: cens[g].map(t => ({x: t, y: survAt(rows, t)})), showLine: false, fill: false,
                   pointStyle: 'cross', pointRadius: 3.2, pointBorderWidth: 1.2,
                   pointBorderColor: COLORS[g], pointBackgroundColor: COLORS[g]});
  });

  const tickFont = {size: 12.5};
  new Chart(cv, {
    type: 'line',
    data: {datasets},
    plugins: [fixLegend],
    options: {
      responsive: false, animation: false, devicePixelRatio: 1,
      layout: {padding: {left: 0, right: 4, top: 0, bottom: 0}},
      plugins: {
        filler: {drawTime: 'beforeDatasetsDraw'},
        tooltip: {enabled: false},
        legend: {
          position: 'top', fullSize: false,
          labels: {
            usePointStyle: true, boxWidth: 10, boxHeight: 11, padding: 7,
            font: {size: 12.5}, color: '#000',
            generateLabels: () => groupNames.map((name, g) => ({
              text: name, pointStyle: keyIcons[g], fillStyle: FILLS[g], strokeStyle: COLORS[g],
              lineWidth: 0, hidden: false, datasetIndex: 6 + 2 * g, fontColor: '#000'
            }))
          }
        }
      },
      scales: {
        x: {
          type: 'linear', min: -1.45, max: 31.5,
          afterBuildTicks: s => { s.ticks = xTicks.map(v => ({value: v})); },
          afterFit: s => { s.height = X_AXIS_H; },
          ticks: {font: tickFont, color: '#333', padding: 1, maxRotation: 0, autoSkip: false},
          grid: {display: true, drawOnChartArea: false, drawTicks: true, tickLength: 3, color: '#333'},
          border: {display: true, color: '#222', width: 1.3},
          title: {display: true, text: 'Time in years', font: {size: 17}, color: '#000', padding: 0}
        },
        y: {
          type: 'linear', min: 0.948, max: 1.0025,
          afterBuildTicks: s => { s.ticks = yTicks.map(v => ({value: v})); },
          afterFit: s => { s.width = Y_AXIS_W; },
          ticks: {font: tickFont, color: '#333', padding: 1, callback: v => Number(v).toFixed(2)},
          grid: {display: true, drawOnChartArea: false, drawTicks: true, tickLength: 3, color: '#333'},
          border: {display: false},
          title: {display: true, text: 'Probability of survival', font: {size: 17}, color: '#000', padding: 0}
        }
      }
    }
  });
}

panels.forEach((row, r) => row.forEach((series, c) => drawPanel(series, censors[r][c], r, c)));
</script>
</body>
</html>
